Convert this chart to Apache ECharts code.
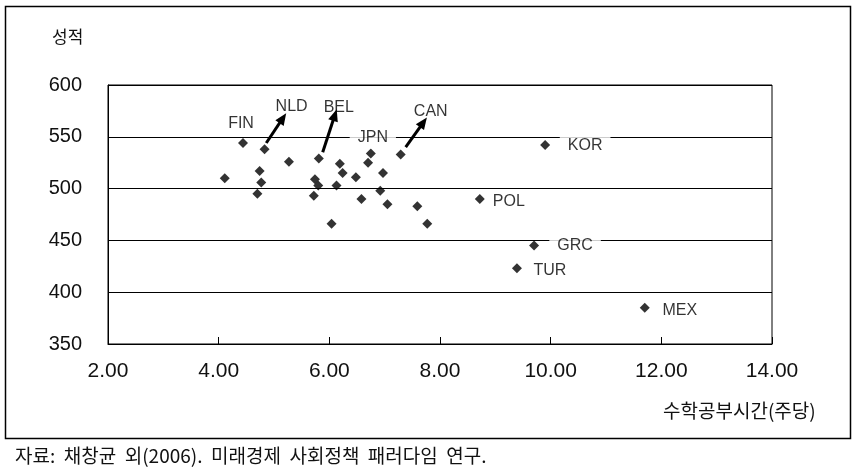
<!DOCTYPE html>
<html>
<head>
<meta charset="utf-8">
<script src="https://cdn.jsdelivr.net/npm/echarts@6/dist/echarts.min.js"></script>
<style>
html,body{margin:0;padding:0;background:#fff;}
#chart{width:859px;height:475px;}
</style>
</head>
<body>
<div id="chart"></div>
<script>
// ---- data ----
const countries = ['FIN','NLD','','','','','','BEL','','','','','','','','','JPN','','','','','','CAN','','','KOR','POL','GRC','TUR','MEX'];
const studyHours = [4.44,4.83,5.27,4.74,4.11,4.77,4.70,5.81,5.74,5.80,5.72,6.04,6.19,6.24,6.13,6.48,6.75,6.70,6.97,6.92,6.58,7.05,7.29,7.59,7.77,9.90,8.72,9.70,9.39,11.70];
const mathScores = [544,538,526,517,510,506,495,529,509,503,493,466,524,515,503,511,534,525,515,498,490,485,533,483,466,542,490,445,423,385];
const arrowFrom = [[4.86,544],[5.88,535],[7.38,540]];
const arrowTo = [[5.16,568],[6.10,571],[7.70,564]];
const xTicks = [2,4,6,8,10,12,14];
const yTicks = [350,400,450,500,550,600];

// ---- label styles (positioning only) ----
const labelOffsets = {FIN:[-2,-19], NLD:[27,-43], BEL:[20,-51], JPN:[2,-16], CAN:[30,-43], KOR:[40,1], POL:[29,3], GRC:[41,0], TUR:[33,2], MEX:[35,3]};
const boxedLabels = ['JPN','KOR','POL','GRC'];

const points = studyHours.map((x, i) => {
  const name = countries[i];
  const item = { value: [x, mathScores[i]], name: name };
  if (name) {
    const boxed = boxedLabels.indexOf(name) >= 0;
    item.label = {
      show: true,
      position: 'inside',
      offset: labelOffsets[name],
      formatter: name,
      color: '#000',
      fontFamily: 'Liberation Sans, Arial, sans-serif',
      fontSize: 16,
      backgroundColor: boxed ? '#fff' : 'transparent',
      padding: boxed ? [3, 8, 3, 8] : 0
    };
  } else {
    item.label = { show: false };
  }
  return item;
});

const arrows = arrowFrom.map((p, i) => [{ coord: p }, { coord: arrowTo[i] }]);

const chart = echarts.init(document.getElementById('chart'));
chart.setOption({
  animation: false,
  backgroundColor: '#fff',
  grid: {
    left: 108, top: 85, width: 664, height: 259,
    show: true, borderColor: '#000', borderWidth: 1, backgroundColor: 'transparent'
  },
  xAxis: {
    type: 'value',
    min: xTicks[0], max: xTicks[xTicks.length - 1], interval: 2,
    axisLine: { show: true, lineStyle: { color: '#000', width: 1 } },
    axisTick: { show: true, inside: true, length: 7, lineStyle: { color: '#000' } },
    splitLine: { show: false },
    axisLabel: {
      formatter: v => v.toFixed(2),
      color: '#111', fontSize: 21, margin: 17,
      fontFamily: 'Liberation Sans, Arial, sans-serif'
    }
  },
  yAxis: {
    type: 'value',
    min: yTicks[0], max: yTicks[yTicks.length - 1], interval: 50,
    axisLine: { show: true, lineStyle: { color: '#000', width: 1 } },
    axisTick: { show: false },
    splitLine: { show: true, lineStyle: { color: '#000', width: 1 } },
    axisLabel: {
      color: '#111', fontSize: 20, margin: 26,
      fontFamily: 'Liberation Sans, Arial, sans-serif'
    }
  },
  graphic: [
    { type: 'rect', shape: { x: 5.5, y: 6.5, width: 845, height: 432 },
      style: { fill: 'none', stroke: '#000', lineWidth: 1.5 }, z: 100, silent: true },
    { type: 'text', left: 52, top: 28,
      style: { text: '성적', fontSize: 17, fill: '#111', fontFamily: 'Noto Sans CJK KR' } },
    { type: 'text', left: 663, top: 401,
      style: { text: '수학공부시간(주당)', fontSize: 19, fill: '#111', fontFamily: 'Noto Sans CJK KR' } },
    { type: 'text', left: 15, top: 446,
      style: { text: '자료:  채창균  외(2006).  미래경제  사회정책  패러다임  연구.', fontSize: 19, fill: '#111', fontFamily: 'Noto Sans CJK KR' } }
  ],
  series: [{
    type: 'scatter',
    symbol: 'diamond',
    symbolSize: 10,
    itemStyle: { color: '#000' },
    data: points,
    z: 3,
    markLine: {
      silent: true,
      symbol: ['none', 'triangle'],
      symbolSize: [10, 12],
      label: { show: false },
      lineStyle: { color: '#000', width: 3, type: 'solid' },
      data: arrows
    }
  }]
});
</script>
</body>
</html>
